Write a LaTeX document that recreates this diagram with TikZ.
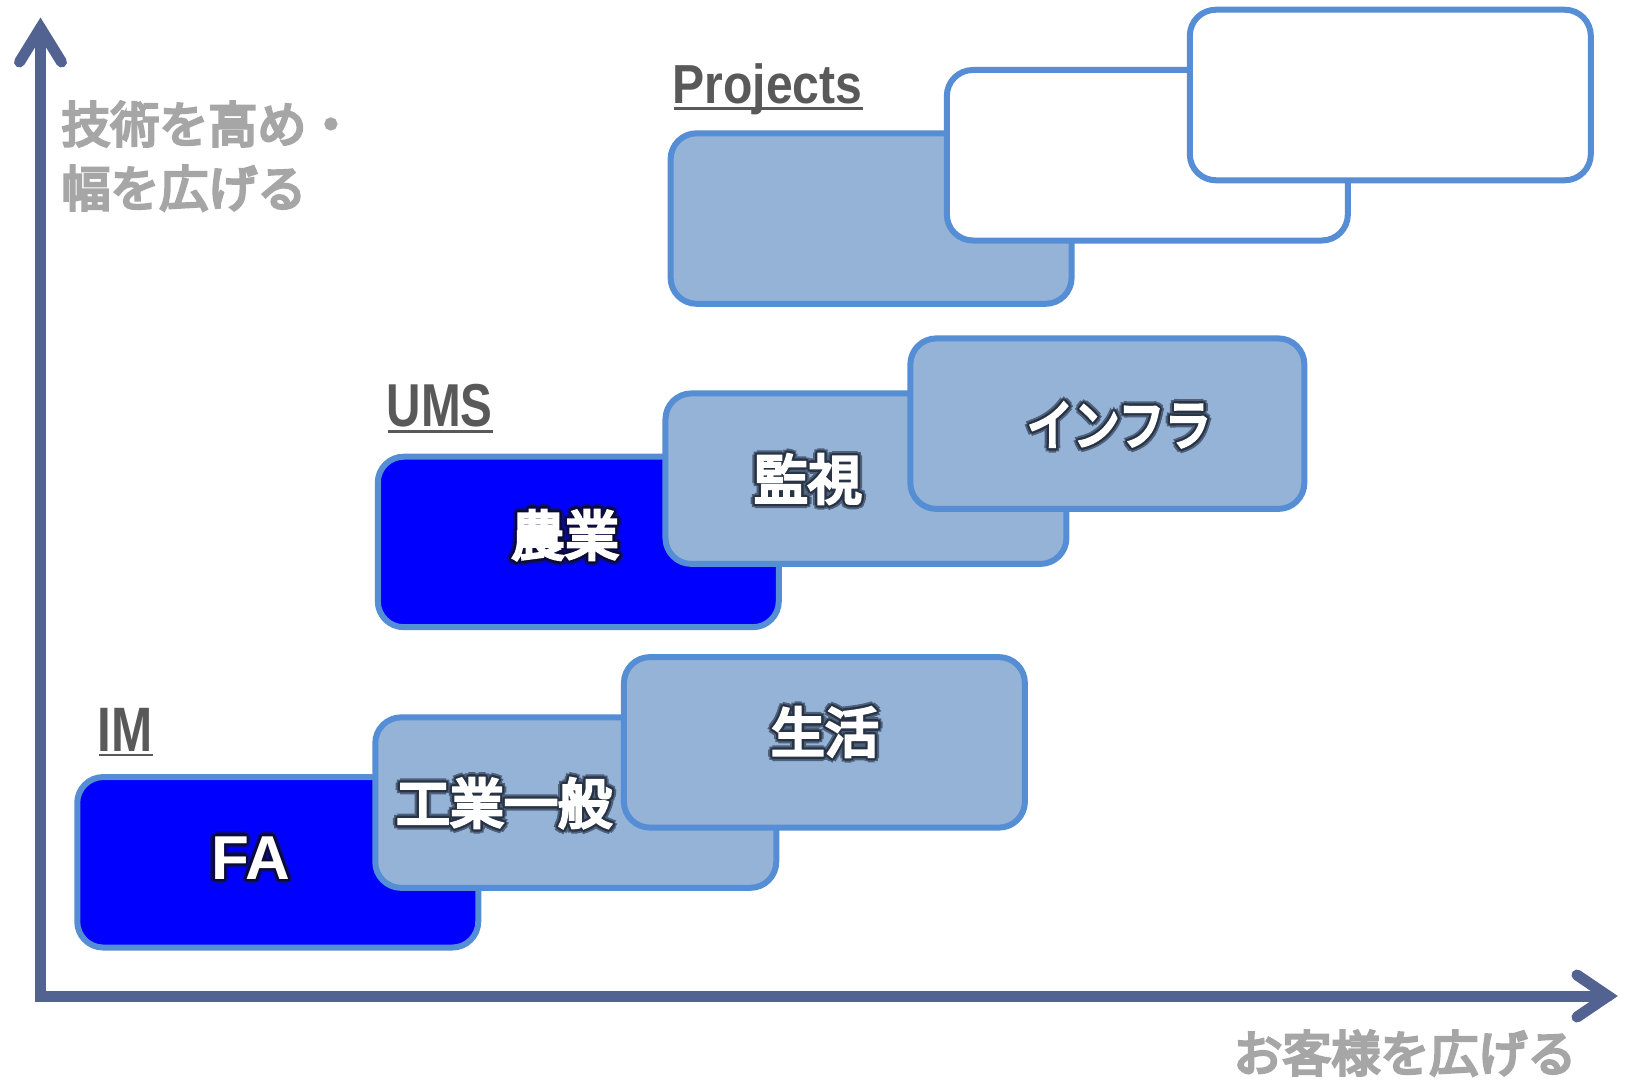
\documentclass[tikz,border=0pt]{standalone}
\usepackage{fontspec}
\setmainfont{Liberation Sans}
\newfontfamily\jpb{Noto Sans CJK JP}[FakeBold=5.5]
\newfontfamily\jpg{Noto Sans CJK JP}[FakeBold=5.5]
\definecolor{axisblue}{RGB}{82,99,146}
\definecolor{edge}{RGB}{85,142,213}
\definecolor{lightfill}{RGB}{149,179,215}
\definecolor{darkfill}{RGB}{0,0,255}
\definecolor{greylab}{RGB}{166,166,166}
\definecolor{darklab}{RGB}{89,89,89}
\definecolor{glowA}{RGB}{40,52,70}
\definecolor{glowAo}{RGB}{78,96,122}
\definecolor{glowB}{RGB}{10,10,60}
\definecolor{glowBo}{RGB}{12,12,130}
\newsavebox\glbox
\newcommand\glcp[2]{\rlap{\kern#1\raise#2\hbox{\copy\glbox}}}
\newcommand\glowtext[3]{%
  \setbox\glbox=\hbox{#3}%
  {\color{#2}\glcp{2.2pt}{0pt}\glcp{-2.2pt}{0pt}\glcp{0pt}{2.2pt}\glcp{0pt}{-2.2pt}%
   \glcp{1.6pt}{1.6pt}\glcp{-1.6pt}{1.6pt}\glcp{1.6pt}{-1.6pt}\glcp{-1.6pt}{-1.6pt}}%
  {\color{#1}\glcp{1.2pt}{0pt}\glcp{-1.2pt}{0pt}\glcp{0pt}{1.2pt}\glcp{0pt}{-1.2pt}%
   \glcp{0.85pt}{0.85pt}\glcp{-0.85pt}{0.85pt}\glcp{0.85pt}{-0.85pt}\glcp{-0.85pt}{-0.85pt}}%
  {\color{white}\copy\glbox}}
\tikzset{
  bx/.style={draw=edge, line width=3pt, rounded corners=13pt, minimum width=200.5pt, minimum height=85.25pt, inner sep=0pt},
  dk/.style={bx, fill=darkfill},
  lt/.style={bx, fill=lightfill},
  wt/.style={bx, fill=white},
  axis/.style={draw=axisblue, line width=5.5pt, line join=miter, line cap=round},
  glab/.style={inner sep=0pt, anchor=base west, text=greylab, font=\jpg\fontsize{24.5pt}{28pt}\selectfont},
  dlab/.style={inner sep=0pt, anchor=base west, text=darklab},
  ul/.style={draw=darklab, line width=1.4pt},
  wjp/.style={inner sep=0pt, font=\jpb\fontsize{27pt}{30pt}\selectfont},
}
\begin{document}
\begin{tikzpicture}[x=0.5pt,y=-0.5pt]
\useasboundingbox[fill=white] (0,0) rectangle (1628,1081);
% axes
\coordinate (O) at (40.5,996);
\coordinate (Ytip) at (40.5,28);
\coordinate (Xtip) at (1608,996);
\draw[axis] (Ytip) -- (O) -- (Xtip);
\draw[axis] ([shift={(-21,34)}]Ytip) -- (Ytip) -- ([shift={(21,34)}]Ytip);
\draw[axis] ([shift={(-31,-21)}]Xtip) -- (Xtip) -- ([shift={(-31,21)}]Xtip);
% axis labels
\node[glab] (ylab1) at (61,142.6) {技術を高め・};
\node[glab] (ylab2) at (61,206.6) {幅を広げる};
\node[glab] (xlab) at (1233,1071.6) {お客様を広げる};
% IM group
\node[dk] (bFA) at (277.75,862.3) {};
\node[lt] (bKG) at (575.75,802.6) {};
\node[lt] (bSK) at (824.4,742.35) {};
% UMS group
\node[dk] (bNG) at (578.3,541.95) {};
\node[lt] (bKS) at (865.95,478.65) {};
\node[lt, minimum width=197pt] (bIF) at (1107.35,423.65) {};
% Projects group
\node[lt] (bP1) at (871.1,218.55) {};
\node[wt] (bP2) at (1147.35,155.25) {};
\node[wt] (bP3) at (1390.3,95) {};
% box labels
\node[inner sep=0pt, font=\bfseries\fontsize{31pt}{34pt}\selectfont] (tFA) at (250.7,858) {\glowtext{glowB}{glowBo}{FA}};
\node[wjp] (tKG) at (504,803) {\glowtext{glowA}{glowAo}{工業一般}};
\node[wjp] (tSK) at (825,732) {\glowtext{glowA}{glowAo}{生活}};
\node[wjp] (tNG) at (565,535) {\glowtext{glowB}{glowBo}{農業}};
\node[wjp] (tKS) at (808,479) {\glowtext{glowA}{glowAo}{監視}};
\node[wjp] (tIF) at (1119,425) {\glowtext{glowA}{glowAo}{\scalebox{0.86}[1]{インフラ}}};
% group titles
\node[dlab, font=\bfseries\fontsize{31.4pt}{34pt}\selectfont] (lIM) at (97,751.7) {\scalebox{0.787}[1]{IM}};
\node[dlab, font=\bfseries\fontsize{30.3pt}{34pt}\selectfont] (lUMS) at (386.2,426.7) {\scalebox{0.787}[1]{UMS}};
\node[dlab, font=\bfseries\fontsize{27.5pt}{30pt}\selectfont] (lPR) at (672,103.3) {\scalebox{0.875}[1]{Projects}};
\draw[ul] ([xshift=1pt,yshift=-1.65pt]lIM.base west) -- ([yshift=-1.65pt]lIM.base east);
\draw[ul] ([xshift=1pt,yshift=-2.3pt]lUMS.base west) -- ([yshift=-2.3pt]lUMS.base east);
\draw[ul] ([xshift=1pt,yshift=-2.5pt]lPR.base west) -- ([yshift=-2.5pt]lPR.base east);
\end{tikzpicture}
\end{document}
